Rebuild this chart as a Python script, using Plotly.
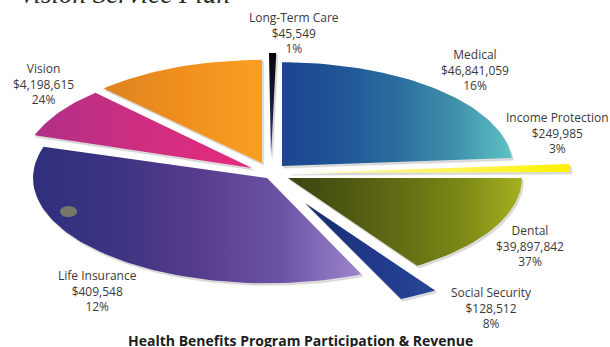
import math
import plotly.graph_objects as go

# Printed labels
label_names = ["Long-Term Care", "Medical", "Income Protection", "Dental",
               "Social Security", "Life Insurance", "Vision"]
label_revenue = [45549, 46841059, 249985, 39897842, 128512, 409548, 4198615]
label_percent = [1, 16, 3, 37, 8, 12, 24]

# Drawn wedges, clockwise degrees from twelve o'clock. The artwork's sweeps are
# illustrative and are not proportional to the printed percentages.
slice_names = ["Orange", "Long-Term Care", "Medical", "Income Protection", "Dental",
               "Social Security", "Life Insurance", "Vision"]
slice_start = [316.3, 359.5, 0.0, 85.9, 90.0, 146.2, 156.2, 288.5]
slice_end = [360.0, 361.3, 85.6, 89.5, 146.5, 155.8, 287.2, 316.9]

# Layout of each wedge: apex in page units, radius relative to the pie
slice_apex = [(262, 163), (271, 157), (282, 166), (290, 173), (288, 178),
              (305, 203), (267, 178), (252, 168)]
slice_radius = [0.955, 0.963, 0.96, 1.167, 0.975, 0.975, 0.975, 0.955]
slice_colors = [
    ("horizontal", ["#dc8420", "#f08f1e", "#fb9f22"]),
    ("vertical", ["#4a3a8c", "#1c1c3a", "#050505"]),
    ("horizontal", ["#1c4690", "#1f5596", "#2a6d9f", "#3f90aa", "#5cc2c4"]),
    ("horizontal", ["#fffbd0", "#fff46a", "#fff200"]),
    ("horizontal", ["#3a4410", "#4f5812", "#656e14", "#7d8a16", "#a5b120"]),
    ("horizontal", ["#182c6a", "#20398a", "#274596"]),
    ("horizontal", ["#2f2f7c", "#3c3482", "#563c8c", "#6a52a4", "#9d86cc"]),
    ("horizontal", ["#b02f88", "#cf2e80", "#e42a7e"]),
]

RX, RY = 240, 108
label_xy = [(294, 33), (475, 70), (557, 133), (530, 246), (491, 308), (97, 291), (43, 84)]


def wedge(apex, radius, start, end, dx=0, dy=0):
    """Outline of one flattened pie wedge, closed back at its apex."""
    steps = max(2, int((end - start) / 1.5))
    xs, ys = [apex[0] + dx], [apex[1] + dy]
    for i in range(steps + 1):
        a = math.radians(start + (end - start) * i / steps)
        xs.append(apex[0] + dx + RX * radius * math.sin(a))
        ys.append(apex[1] + dy - RY * radius * math.cos(a))
    xs.append(apex[0] + dx)
    ys.append(apex[1] + dy)
    return xs, ys


fig = go.Figure()

# Soft drop shadows sit underneath the coloured wedges
for apex, radius, start, end in zip(slice_apex, slice_radius, slice_start, slice_end):
    xs, ys = wedge(apex, radius, start, end, 1.5, 2)
    fig.add_trace(go.Scatter(x=xs, y=ys, mode="lines", fill="toself", hoverinfo="skip",
                             line=dict(width=1.5, color="rgba(90,90,90,0.10)"),
                             fillcolor="rgba(90,90,90,0.20)", showlegend=False))

for name, apex, radius, start, end, (kind, stops) in zip(
        slice_names, slice_apex, slice_radius, slice_start, slice_end, slice_colors):
    xs, ys = wedge(apex, radius, start, end)
    scale = [[i / (len(stops) - 1), c] for i, c in enumerate(stops)]
    fig.add_trace(go.Scatter(x=xs, y=ys, mode="lines", name=name, fill="toself",
                             line=dict(width=0), showlegend=False, hoverinfo="name",
                             fillgradient=dict(type=kind, colorscale=scale)))

annotations = []
for name, rev, pct, (x, y) in zip(label_names, label_revenue, label_percent, label_xy):
    annotations.append(dict(x=x, y=y, xref="x", yref="y", showarrow=False,
                            text=f"{name}<br>${rev:,}<br>{pct}%", align="center",
                            font=dict(family="Open Sans", size=12, color="#3a3a3a")))

annotations.append(dict(x=124, y=11, xref="x", yref="y", showarrow=False, yanchor="bottom",
                        text="<i>Vision Service Plan</i>",
                        font=dict(family="Liberation Serif", size=27, color="#2a2a2a")))
annotations.append(dict(x=300, y=340, xref="x", yref="y", showarrow=False,
                        text="<b>Health Benefits Program Participation &amp; Revenue</b>",
                        font=dict(family="Open Sans", size=14, color="#1c1c1c")))

fig.update_layout(
    width=610, height=347, margin=dict(l=0, r=0, t=0, b=0),
    paper_bgcolor="white", plot_bgcolor="white", showlegend=False,
    xaxis=dict(range=[0, 610], visible=False, fixedrange=True),
    yaxis=dict(range=[347, 0], visible=False, fixedrange=True),
    annotations=annotations,
    shapes=[dict(type="circle", xref="x", yref="y", x0=60, x1=77, y0=206, y1=217,
                 fillcolor="#77786a", line=dict(width=0))],
)

fig.write_html("out.html", config=dict(displayModeBar=False))
